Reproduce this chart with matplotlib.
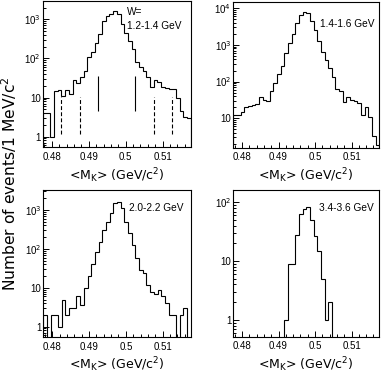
import numpy as np
import matplotlib.pyplot as plt
from matplotlib.ticker import FixedLocator, MultipleLocator, NullFormatter

plt.rcParams['font.family'] = ['Liberation Sans', 'DejaVu Sans']

# 1 MeV bins of the mean K mass
m_lo = 0.4776
m_hi = 0.5176
n_bins = 40

w_labels = ['W=\n1.2-1.4 GeV', '1.4-1.6 GeV', '2.0-2.2 GeV', '3.4-3.6 GeV']

counts_w12 = [4, 4, 1, 15, 16, 11, 16, 12, 28, 23,
              33, 48, 106, 150, 250, 430, 910, 1250, 1400, 1650,
              1350, 780, 460, 275, 170, 82, 61, 48, 33, 19,
              29, 25, 19, 18, 17, 17, 10, 4.5, 3.2, 3.0]
counts_w14 = [12, 12, 15, 20, 22, 23, 25, 39, 32, 30,
              57, 94, 160, 270, 590, 1100, 1950, 3900, 6600, 8000,
              7600, 4600, 2600, 1300, 660, 390, 230, 130, 62, 57,
              28, 37, 32, 30, 26, 12, 20, 11, 3.3, 1.9]
counts_w20 = [2, 0, 2, 2, 1, 5, 2, 3, 3, 6,
              3.6, 10, 20, 40, 85, 150, 300, 500, 830, 1500,
              1600, 1100, 500, 250, 126, 57, 29, 24, 12, 8,
              7, 8.8, 6, 4, 2, 2, 0, 2, 3, 0]
counts_w34 = [0, 0, 0, 0, 0, 0, 0, 0, 0, 0,
              0, 0, 0, 0, 1, 9, 9, 28, 64, 77,
              83, 50, 27, 14.6, 4.9, 1, 2, 0, 0, 0,
              0, 0, 0, 0, 0, 0, 0, 0, 0, 0]

all_counts = [counts_w12, counts_w14, counts_w20, counts_w34]
y_ranges = [(0.545, 3040), (1.6, 14750), (0.553, 3270), (0.52, 163)]
y_major = [[1, 10, 100, 1000], [10, 100, 1000, 10000],
           [1, 10, 100, 1000], [1, 10, 100]]

# signal and side-band windows (first panel only)
signal_window = [0.4926, 0.5026]
signal_span = (4.6, 35)
side_windows = [0.4826, 0.4876, 0.5076, 0.5126]
side_span = (1.2, 10.5)

W, H = 381, 379
fig = plt.figure(figsize=(W / 100, H / 100), dpi=100)

# pixel boxes: left, right, top, bottom
boxes = [(43, 190.7, 0.5, 147), (233.3, 379.3, 2, 147.5),
         (43.3, 190.7, 190, 336.7), (233.3, 379.3, 190, 336.5)]
text_pos = [(127, 7), (320, 19), (129, 203), (319, 203)]


def fmt_pow(v):
    if v == 1:
        return '1'
    if v == 10:
        return '10'
    return r'10$^{%d}$' % int(round(np.log10(v)))


edges = np.linspace(m_lo, m_hi, n_bins + 1)
for i, (x0, x1, t, b) in enumerate(boxes):
    ax = fig.add_axes([x0 / W, 1 - b / H, (x1 - x0) / W, (b - t) / H])
    vals = np.array(all_counts[i], dtype=float)
    vals = np.where(vals > 0, vals, 1e-3)
    ax.stairs(vals, edges, baseline=1e-3, color='black', lw=0.8)
    ax.set_yscale('log')
    ax.set_xlim(m_lo, m_hi)
    ax.set_ylim(*y_ranges[i])

    ax.xaxis.set_major_locator(FixedLocator([0.48, 0.49, 0.50, 0.51]))
    ax.set_xticklabels(['0.48', '0.49', '0.5', '0.51'])
    ax.xaxis.set_minor_locator(MultipleLocator(0.002))
    ax.yaxis.set_major_locator(FixedLocator(y_major[i]))
    ax.set_yticklabels([fmt_pow(v) for v in y_major[i]])
    minors = [m * 10.0 ** d for d in range(-1, 5) for m in range(2, 10)]
    ax.yaxis.set_minor_locator(FixedLocator(minors))
    ax.yaxis.set_minor_formatter(NullFormatter())
    ax.tick_params(which='both', direction='in', top=False, right=False,
                   width=0.7, labelsize=7)
    ax.tick_params(axis='x', which='major', length=4, pad=3.5)
    ax.tick_params(axis='y', which='major', length=4, pad=1.5)
    ax.tick_params(which='minor', length=2)
    for s in ax.spines.values():
        s.set_linewidth(0.8)

    ax.set_xlabel(r'<M$_{\rm K}$> (GeV/c$^2$)', fontsize=9,
                  family='DejaVu Sans', labelpad=3)

    tx, ty = text_pos[i]
    fig.text(tx / W, 1 - ty / H, w_labels[i], fontsize=7.3, ha='left',
             va='top', linespacing=1.5)

    if i == 0:
        ax.vlines(signal_window, *signal_span, color='black', lw=0.8)
        ax.vlines(side_windows, *side_span, color='black', lw=0.8,
                  linestyles=(0, (3.5, 2)))

fig.text(9.5 / W, 1 - 184 / H, 'Number of events/1 MeV/c$^2$', rotation=90,
         fontsize=11.2, family='DejaVu Sans', ha='center', va='center')

fig.savefig('out.png', dpi=100)
